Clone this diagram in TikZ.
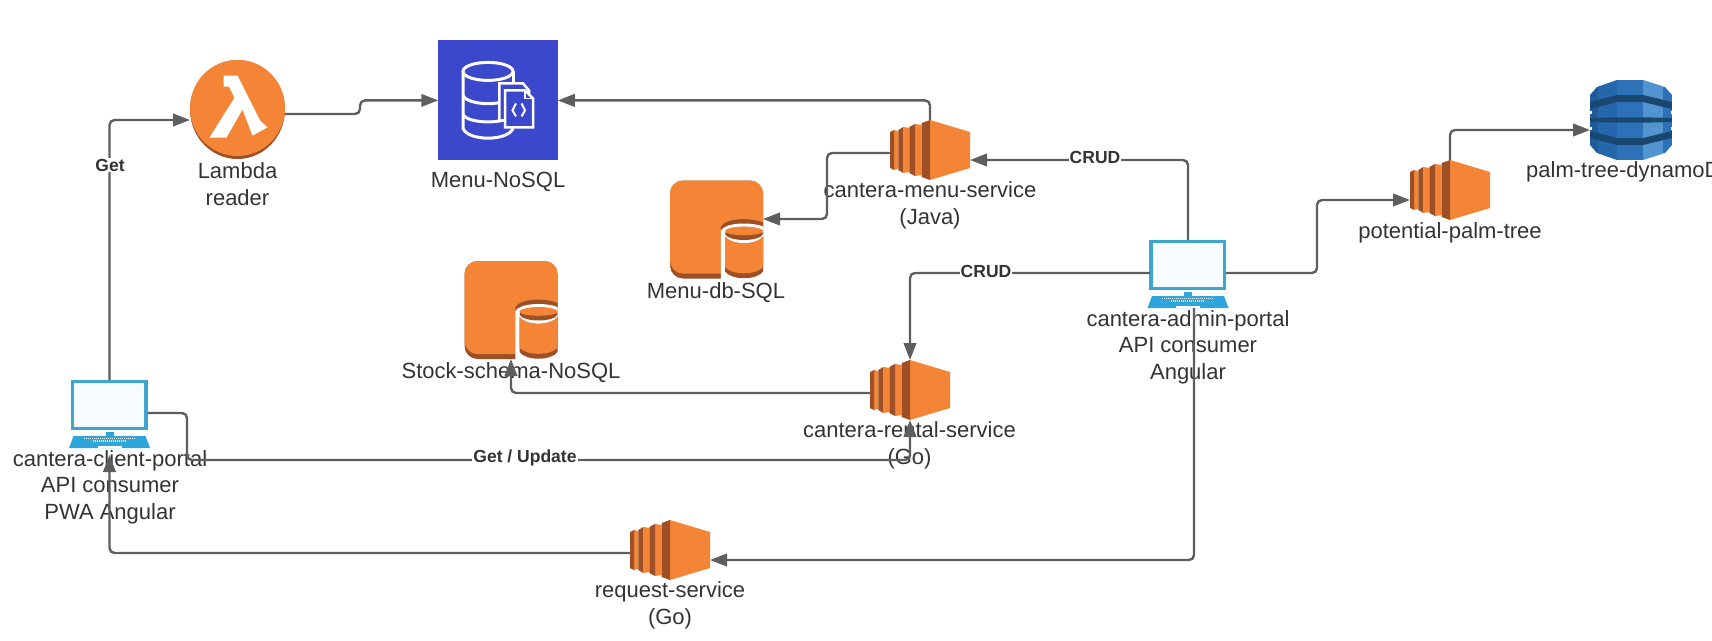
\documentclass[tikz,border=0pt]{standalone}
\usepackage{fontspec}
\setmainfont{Liberation Sans}
\usetikzlibrary{arrows.meta,shapes.geometric}

\definecolor{awsorange}{HTML}{F58536}
\definecolor{awsdark}{HTML}{9D5025}
\definecolor{dbblue}{HTML}{3B48CC}
\definecolor{dyndark}{HTML}{1A476F}
\definecolor{dynedge}{HTML}{205B99}
\definecolor{dynleft}{HTML}{2567AB}
\definecolor{dynmid}{HTML}{2D72B8}
\definecolor{dynright}{HTML}{5294CF}
\definecolor{screenblue}{HTML}{3CA6D0}
\definecolor{keyblue}{HTML}{2EA6DC}
\definecolor{screenfill}{HTML}{F6FCFF}
\definecolor{linegray}{HTML}{5E5E5E}
\definecolor{textgray}{HTML}{333333}

\tikzset{
  conn/.style={draw=linegray, line width=2.4pt, rounded corners=5pt},
  arr/.style={conn, -{Triangle[length=17pt,width=12.5pt]}},
  lbl/.style={font=\fontsize{22}{26.5}\selectfont, text=textgray, align=center, inner sep=0pt},
  connlbl/.style={font=\fontsize{17.5}{20}\selectfont\bfseries, text=textgray, fill=white, inner sep=1pt},
  ec2box/.style={minimum width=80pt, minimum height=60pt, inner sep=0pt, outer sep=0pt},
  dbbox/.style={minimum width=93pt, minimum height=98pt, inner sep=0pt, outer sep=0pt},
  lapbox/.style={minimum width=76pt, minimum height=68pt, inner sep=0pt, outer sep=0pt},
  ec2/.pic={
    \foreach \xa/\xb/\xc/\ya/\yb/\yc in {-40/-36/-31.7/18/20/19, -31.7/-26.7/-20.7/20/23/22, -20.7/-15/-8.3/23/26/25, -8.3/0/40/27/30/18} {
      \fill[awsorange] (\xb,-\yb) -- (\xc,-\yc) -- (\xc,\yc) -- (\xb,\yb) -- cycle;
      \fill[awsdark] (\xa,-\ya) -- (\xb,-\yb) -- (\xb,\yb) -- (\xa,\ya) -- cycle;
    }
  },
  rds/.pic={
    \fill[awsdark, rounded corners=13pt] (-46.5,-49) rectangle (46.5,49);
    \fill[awsorange, rounded corners=13pt] (-46.5,-49) rectangle (46.5,44);
    % cut out for the small drum
    \fill[awsdark] (4.3,-3) .. controls (10,-12) and (35,-12) .. (46.6,-7) -- (46.6,8) -- (4.3,8) -- cycle;
    \fill[white] (4.3,1) .. controls (10,-7.5) and (35,-7.5) .. (46.6,-3) -- (46.6,50) -- (4.3,50) -- cycle;
    \fill[awsdark] (27.5,3.85) ellipse [x radius=19, y radius=6.65];
    \fill[awsorange] (27.5,1.5) ellipse [x radius=19, y radius=4.3];
    \fill[awsdark] (8.5,7) .. controls (15,16.1) and (40,16.1) .. (46.5,7) -- (46.5,42) .. controls (40,51) and (15,51) .. (8.5,42) -- cycle;
    \fill[awsorange] (8.5,7) .. controls (15,16.1) and (40,16.1) .. (46.5,7) -- (46.5,37.5) .. controls (40,45.9) and (15,45.9) .. (8.5,37.5) -- cycle;
  },
  laptop/.pic={
    \draw[screenblue, fill=screenfill, line width=3.5pt] (-37,-32.5) rectangle (36.5,14.5);
    \fill[keyblue] (-4,18) rectangle (4,22);
    \fill[keyblue] (-36,22) -- (36,22) -- (40.5,34) -- (-40.5,34) -- cycle;
    \foreach \y/\xs in {24/26, 26/17, 27.5/17} {
      \draw[white, line width=1pt, dash pattern=on 1pt off 1pt] (-\xs,\y) -- (\xs,\y);
    }
    \fill[white] (-12,32) rectangle (12,33.5);
  },
  dynamotable/.pic={
    \begin{scope}
      \clip (-41,-25) -- (-34,-33) -- (-14,-40) -- (12,-40) -- (34,-33) -- (41,-25) -- (41,25) -- (34,33) -- (12,40) -- (-14,40) -- (-34,33) -- (-41,25) -- cycle;
      \fill[dynedge] (-41,-40) rectangle (-33,40);
      \fill[dynleft] (-33,-40) rectangle (-14,40);
      \fill[dynmid] (-14,-40) rectangle (12,40);
      \fill[dynright] (12,-40) rectangle (32,40);
      \fill[dynmid] (32,-40) rectangle (41,40);
      \fill[dyndark] (-41,-18) -- (-14,-25) -- (12,-25) -- (41,-18) -- (41,-11) -- (12,-18) -- (-14,-18) -- (-41,-11) -- cycle;
      \fill[dyndark] (-41,-2) -- (-14,-2.7) -- (12,-2.7) -- (41,-2) -- (41,2) -- (12,2.7) -- (-14,2.7) -- (-41,2) -- cycle;
      \fill[dyndark] (-41,18) -- (-14,25) -- (12,25) -- (41,18) -- (41,11) -- (12,18) -- (-14,18) -- (-41,11) -- cycle;
    \end{scope}
    \foreach \y in {-8,8} {
      \fill[white] (-41.5,\y-1.5) rectangle (-39.5,\y+1.5);
      \fill[white] (39.5,\y-1.5) rectangle (41.5,\y+1.5);
    }
  },
  nosqlicon/.pic={
    \begin{scope}[white, line width=3pt]
      \draw (-10,-29) ellipse [x radius=25, y radius=9];
      \draw (-35,-29) -- (-35,28) .. controls (-30,41) and (10,41) .. (15,28);
      \draw (15,-29) -- (15,-10);
      \draw (-35,-5) .. controls (-30,6) and (10,6) .. (15,-5);
      \draw (-35,14) .. controls (-30,24) and (10,24) .. (15,14);
      \draw[fill=dbblue, line width=2.5pt] (1.3,-17) -- (25,-17) -- (31,-10) -- (31,20) -- (1.3,20) -- cycle;
      \draw[fill=dbblue, line width=2.5pt] (7,-10) -- (27,-10) -- (35,-2) -- (35,27) -- (7,27) -- cycle;
      \draw[line width=1.5pt] (27,-10) -- (27,-2) -- (35,-2);
      \draw[line width=2pt] (18,3) -- (14.5,10) -- (18,16);
      \draw[line width=2pt] (23.5,3) -- (27,10) -- (23.5,16);
    \end{scope}
  }
}

\begin{document}
\begin{tikzpicture}[x=1pt, y=-1pt]
  \useasboundingbox (0,0) rectangle (1712,640);

  % Place the icons
  \node[ellipse, fill=awsdark, minimum width=95pt, minimum height=99pt, inner sep=0pt, outer sep=0pt] (lambda) at (237.5,109.5) {};
  \node[fill=dbblue, minimum width=119.5pt, minimum height=120pt, inner sep=0pt, outer sep=0pt] (nosql) at (498,100.4) {};
  \node[ec2box] (menuservice) at (930,150) {};
  \node[ec2box] (rental) at (910,390) {};
  \node[ec2box] (request) at (670,550) {};
  \node[ec2box] (palmtree) at (1450,190) {};
  \node[dbbox] (menudb) at (716.5,229.5) {};
  \node[dbbox] (stock) at (511,310) {};
  \node[lapbox] (admin) at (1188,274) {};
  \node[lapbox] (client) at (109.5,414) {};
  \node[minimum width=82pt, minimum height=80pt, inner sep=0pt, outer sep=0pt] (dynamo) at (1631,120) {};

  % Draw the icons
  \fill[awsorange] (237.5,108) ellipse [x radius=47.5, y radius=48];
  \fill[white] (223.5,75.5) -- (237.5,75.5) -- (260,120.5) -- (267.5,127.5) -- (252.5,135.5) -- (242.5,109.5) -- (226.5,137.5) -- (209.5,137.5) -- (234.5,97.8) -- (228.9,86.5) -- (223.5,86.5) -- cycle;
  \pic at (nosql) {nosqlicon};
  \foreach \n in {menuservice,rental,request,palmtree} {
    \pic at (\n) {ec2};
  }
  \foreach \n in {menudb,stock} {
    \pic at (\n) {rds};
  }
  \foreach \n in {admin,client} {
    \pic at (\n) {laptop};
  }
  \pic at (dynamo) {dynamotable};

  % Add labels
  \node[lbl] (lambdalbl) at (237.5,184) {Lambda\\reader};
  \node[lbl] (nosqllbl) at (498,182) {Menu-NoSQL};
  \node[lbl] (menuservicelbl) at (930,205.5) {cantera-menu-service\\(Java)};
  \node[lbl] (menudblbl) at (716,293) {Menu-db-SQL};
  \node[lbl] (stocklbl) at (511,373) {Stock-schema-NoSQL};
  \node[lbl] (rentallbl) at (909.5,445.5) {cantera-rental-service\\(Go)};
  \node[lbl] (requestlbl) at (670,605.5) {request-service\\(Go)};
  \node[lbl] (adminlbl) at (1188,347) {cantera-admin-portal\\API consumer\\Angular};
  \node[lbl] (clientlbl) at (110,487) {cantera-client-portal\\API consumer\\PWA Angular};
  \node[lbl] (palmtreelbl) at (1450,233) {potential-palm-tree};
  \node[lbl, anchor=west] (dynamolbl) at (1526,171.5) {palm-tree-dynamoD};

  % Draw connectors
  \coordinate (lambdajog) at (360,100.4);
  \coordinate (menujog) at (827,190);
  \coordinate (palmjog) at (1317,240);
  \coordinate (updatejog) at (187,460);
  \draw[arr] (client.north) |- ([yshift=-10.5pt]lambda.west);
  \draw[arr] ([yshift=-4.5pt]lambda.east) -| (lambdajog) -- (nosql.west);
  \draw[arr] (menuservice.north) |- (nosql.east);
  \draw[arr] ([yshift=-3pt]menuservice.west) -| (menujog) |- ([yshift=10.5pt]menudb.east);
  \draw[arr] (admin.north) |- ([yshift=-10pt]menuservice.east);
  \draw[arr] ([yshift=1pt]admin.west) -| (rental.north);
  \draw[arr] ([yshift=1pt]admin.east) -| (palmjog) |- ([yshift=-10pt]palmtree.west);
  \draw[arr] (palmtree.north) |- ([yshift=-10pt]dynamo.west);
  \draw[arr] ([yshift=-3pt]rental.west) -| (stock.south);
  \draw[arr] ([yshift=1pt]client.east) -| (updatejog) -| (rental.south);
  \draw[arr] ([xshift=6pt]admin.south) |- ([yshift=-10pt]request.east);
  \draw[arr] ([yshift=-3pt]request.west) -| ([yshift=-7pt]client.south);

  % Labels on the connectors
  \node[connlbl] (getlbl) at (110,165) {Get};
  \node[connlbl] (crudtop) at (1095,157) {CRUD};
  \node[connlbl] (crudlow) at (986,271) {CRUD};
  \node[connlbl] (updatelbl) at (525,458) {Get / Update};
\end{tikzpicture}
\end{document}
